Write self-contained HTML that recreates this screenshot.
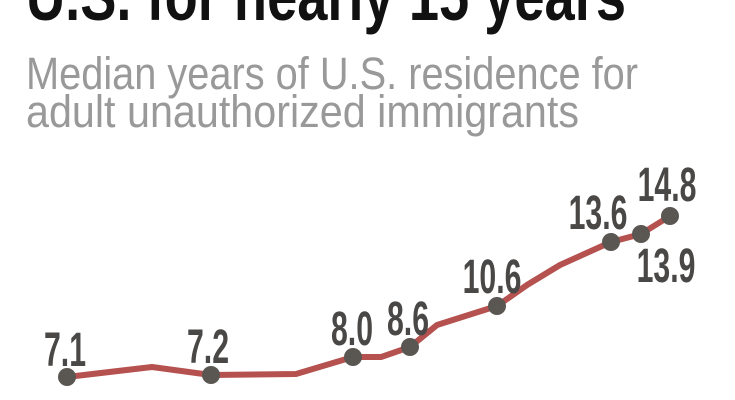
<!DOCTYPE html>
<html><head><meta charset="utf-8"><style>
html,body{margin:0;padding:0;background:#fff;}
body{width:735px;height:400px;overflow:hidden;position:relative;}
</style></head><body>
<svg width="735" height="400" xmlns="http://www.w3.org/2000/svg" style="position:absolute;left:0;top:0">
<text x="26" y="20" font-family="Liberation Sans, sans-serif" font-weight="bold" font-size="70" fill="#111" textLength="600" lengthAdjust="spacingAndGlyphs">U.S. for nearly 15 years</text>
<text x="26" y="89" font-family="Liberation Sans, sans-serif" font-size="45" fill="#999" textLength="612" lengthAdjust="spacingAndGlyphs">Median years of U.S. residence for</text>
<text x="26" y="127" font-family="Liberation Sans, sans-serif" font-size="45" fill="#999" textLength="553" lengthAdjust="spacingAndGlyphs">adult unauthorized immigrants</text>
<polyline fill="none" stroke="#b5524f" stroke-width="6" stroke-linejoin="round" points="67,377 152,367 211,375 296,374 353,357 381,357 410,347 437,325 497,306 527,285 560,265 611,242 641,234 670,216"/>
<g fill="#5a5753">
<circle cx="67" cy="377" r="9"/><circle cx="211" cy="375" r="9"/><circle cx="353" cy="357" r="9"/><circle cx="410" cy="347" r="9"/><circle cx="497" cy="306" r="9"/><circle cx="611" cy="242" r="9"/><circle cx="641" cy="234" r="9"/><circle cx="670" cy="216" r="9"/>
</g>
<g font-family="Liberation Sans, sans-serif" font-weight="bold" font-size="48" fill="#4a4846" text-anchor="middle">
<text transform="translate(65,366) scale(0.63,1)">7.1</text>
<text transform="translate(208,363) scale(0.63,1)">7.2</text>
<text transform="translate(352,345) scale(0.63,1)">8.0</text>
<text transform="translate(408,335) scale(0.63,1)">8.6</text>
<text transform="translate(492,293) scale(0.63,1)">10.6</text>
<text transform="translate(598,229) scale(0.63,1)">13.6</text>
<text transform="translate(667,201) scale(0.63,1)">14.8</text>
<text transform="translate(666,282) scale(0.63,1)">13.9</text>
</g>
</svg>
</body></html>
